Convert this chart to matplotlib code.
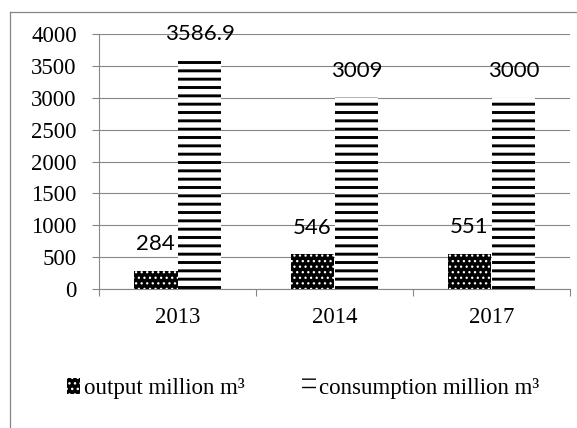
import matplotlib
matplotlib.use("Agg")
import matplotlib.pyplot as plt
from matplotlib.lines import Line2D
from matplotlib.patches import Patch

years = ["2013", "2014", "2017"]
output_vals = [284, 546, 551]
consumption_vals = [3586.9, 3009, 3000]
output_labels = ["284", "546", "551"]
consumption_labels = ["3586.9", "3009", "3000"]
series_names = ["output million m³", "consumption million m³"]

GRAY = "#868686"
SERIF = "Liberation Serif"

fig = plt.figure(figsize=(5.77, 4.28), dpi=100)
ax = fig.add_axes([99 / 577, 139 / 428, 471 / 577, 255 / 428])

x = list(range(len(years)))
w = 0.28

# output: black with white dots
with plt.rc_context({"hatch.linewidth": 0.9}):
    b1 = ax.bar([i - w / 2 for i in x], output_vals, w, facecolor="black",
                edgecolor="white", linewidth=0, hatch="...", zorder=3)
# consumption: white with heavy black stripes
with plt.rc_context({"hatch.linewidth": 2.1}):
    b2 = ax.bar([i + w / 2 for i in x], consumption_vals, w, facecolor="white",
                edgecolor="black", linewidth=0, hatch="--", zorder=3)

for bars, labels in ((b1, output_labels), (b2, consumption_labels)):
    for rect, lab in zip(bars, labels):
        ax.annotate(lab, (rect.get_x() + rect.get_width() / 2, rect.get_height()),
                    xytext=(0, 12), textcoords="offset points", ha="center",
                    va="bottom", fontsize=16, family="Lato", zorder=4)

ax.set_ylim(0, 4000)
ax.set_xlim(-0.5, 2.5)
ax.set_yticks(range(0, 4001, 500))
ax.yaxis.grid(True, color=GRAY, linewidth=0.8, zorder=0)
ax.set_axisbelow(True)

# category boundaries get the tick marks, labels sit in the middle
ax.set_xticks([-0.5, 0.5, 1.5, 2.5])
ax.set_xticklabels([])
ax.set_xticks(x, minor=True)
ax.set_xticklabels(years, minor=True)
ax.tick_params(axis="x", which="major", length=5, color=GRAY, width=0.8)
ax.tick_params(axis="x", which="minor", length=0, pad=13, labelsize=16.5)
ax.tick_params(axis="y", length=5, color=GRAY, width=0.8, pad=11, labelsize=16.5)
for lab in ax.get_xticklabels(minor=True) + ax.get_yticklabels():
    lab.set_family(SERIF)

for side in ("top", "right"):
    ax.spines[side].set_visible(False)
for side in ("left", "bottom"):
    ax.spines[side].set_color(GRAY)
    ax.spines[side].set_linewidth(0.8)

with plt.rc_context({"hatch.linewidth": 0.9}):
    h1 = Patch(facecolor="black", edgecolor="white", linewidth=0, hatch="...")
with plt.rc_context({"hatch.linewidth": 2.1}):
    h2 = Patch(facecolor="white", edgecolor="black", linewidth=0, hatch="--")
fig.legend([h1, h2], series_names, loc="center", bbox_to_anchor=(0.525, 0.093),
           ncol=2, frameon=False, handlelength=0.6, handleheight=0.7,
           handletextpad=0.15, columnspacing=2.5, prop={"family": SERIF, "size": 16.5})

# outer chart frame (only left and top edges fall inside the picture)
fig.add_artist(Line2D([10 / 577, 10 / 577], [0, 1 - 12 / 428], color=GRAY,
                      linewidth=0.9, transform=fig.transFigure))
fig.add_artist(Line2D([10 / 577, 1], [1 - 12 / 428, 1 - 12 / 428], color=GRAY,
                      linewidth=0.9, transform=fig.transFigure))

fig.savefig("out.png", dpi=100)
